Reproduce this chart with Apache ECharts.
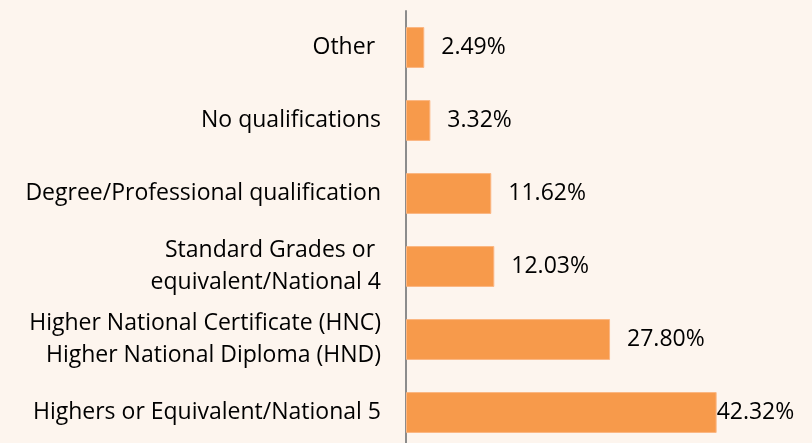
<!DOCTYPE html>
<html><head><meta charset="utf-8">
<script src="https://cdn.jsdelivr.net/npm/echarts@6/dist/echarts.min.js"></script>
<style>html,body{margin:0;padding:0;background:#FDF5EE;overflow:hidden;width:812px;height:443px;}#c{width:812px;height:460px;}</style>
</head><body><div id="c"></div>
<script>
const categories = [
  "Highers or Equivalent/National 5",
  "Higher National Certificate (HNC)\nHigher National Diploma (HND)",
  "Standard Grades or \nequivalent/National 4",
  "Degree/Professional qualification",
  "No qualifications",
  "Other "
];
const values = [42.32, 27.80, 12.03, 11.62, 3.32, 2.49];
const valueLabels = ["42.32%", "27.80%", "12.03%", "11.62%", "3.32%", "2.49%"];

const font = "Open Sans";
const chart = echarts.init(document.getElementById('c'), null, {renderer: 'canvas'});
chart.setOption({
  backgroundColor: '#FDF5EE',
  animation: false,
  grid: {left: 406, top: 11, width: 367, height: 438, containLabel: false},
  xAxis: {type: 'value', min: 0, max: 50, show: false},
  yAxis: {
    type: 'category', data: categories,
    axisLine: {show: true, lineStyle: {color: '#8C8C8C', width: 2}},
    axisTick: {show: false},
    axisLabel: {margin: 25, color: '#000', fontFamily: font, fontSize: 23, lineHeight: 32, align: 'right', padding: [3, 0, 0, 0]}
  },
  series: [{
    type: 'bar', barWidth: '56%',
    data: values.map((v, i) => ({
      value: v,
      label: {show: true, position: 'right', distance: i === 0 ? 0 : 17,
        formatter: valueLabels[i], color: '#000', fontFamily: font, fontSize: 23, padding: [3, 0, 0, 0]}
    })),
    itemStyle: {color: '#F79A4B', borderColor: '#FBB682', borderWidth: 1}
  }]
});
</script></body></html>
